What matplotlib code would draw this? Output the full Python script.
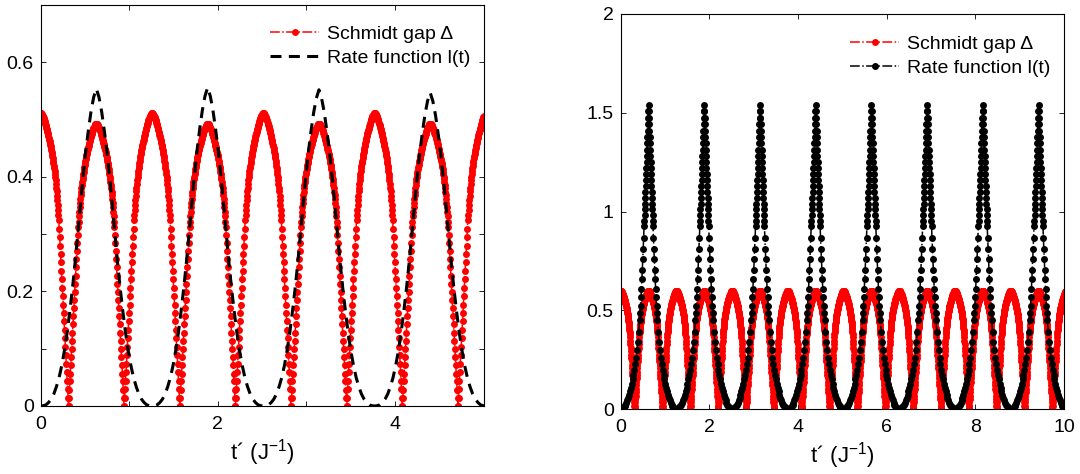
import numpy as np
import matplotlib
matplotlib.use('Agg')
import matplotlib.pyplot as plt

plt.rcParams['font.family'] = ['Liberation Sans', 'DejaVu Sans']
plt.rcParams['mathtext.fontset'] = 'custom'
plt.rcParams['mathtext.rm'] = 'Liberation Sans'

# Schmidt gap: one half lobe (offset from lobe maximum, fraction of the maximum)
gap_tau = [0.000, 0.004, 0.008, 0.012, 0.016, 0.020, 0.024, 0.028, 0.032, 0.036,
           0.040, 0.044, 0.048, 0.052, 0.056, 0.060, 0.064, 0.068, 0.072, 0.076,
           0.080, 0.084, 0.088, 0.092, 0.096, 0.100, 0.104, 0.108, 0.112, 0.116,
           0.120, 0.124, 0.128, 0.132, 0.136, 0.140, 0.144, 0.148, 0.152, 0.156,
           0.160, 0.164, 0.168, 0.172, 0.176, 0.180, 0.184, 0.188, 0.192, 0.196,
           0.200, 0.204, 0.209, 0.214, 0.219, 0.224, 0.229, 0.234, 0.239, 0.244,
           0.249, 0.254, 0.259, 0.264, 0.269, 0.274, 0.279, 0.284, 0.289, 0.294,
           0.299, 0.304, 0.309, 0.314]
gap_shape = [1.000, 1.000, 0.999, 0.997, 0.995, 0.992, 0.989, 0.986, 0.983, 0.980,
             0.976, 0.972, 0.968, 0.964, 0.960, 0.956, 0.951, 0.946, 0.942, 0.937,
             0.932, 0.927, 0.921, 0.916, 0.910, 0.905, 0.899, 0.893, 0.887, 0.881,
             0.874, 0.867, 0.860, 0.853, 0.846, 0.838, 0.830, 0.821, 0.812, 0.803,
             0.793, 0.782, 0.771, 0.759, 0.746, 0.733, 0.719, 0.704, 0.688, 0.671,
             0.653, 0.635, 0.606, 0.577, 0.548, 0.520, 0.491, 0.462, 0.433, 0.404,
             0.375, 0.346, 0.317, 0.289, 0.260, 0.231, 0.202, 0.173, 0.144, 0.115,
             0.087, 0.058, 0.029, 0.000]

# rate function, left panel: half lobe measured from the peak
rate_l_tau = [0.00, 0.03, 0.06, 0.09, 0.12, 0.15, 0.18, 0.21, 0.24, 0.27, 0.30,
              0.33, 0.36, 0.39, 0.42, 0.45, 0.48, 0.51, 0.54, 0.57, 0.60, 0.628]
rate_l_shape = [0.555, 0.540, 0.515, 0.482, 0.445, 0.400, 0.352, 0.300, 0.250, 0.205, 0.165,
                0.128, 0.097, 0.071, 0.050, 0.034, 0.021, 0.012, 0.006, 0.002, 0.0005, 0.0]

# rate function, right panel: half lobe measured from the peak
rate_r_tau = [0.000, 0.005, 0.010, 0.015, 0.020, 0.025, 0.030, 0.035, 0.040, 0.045, 0.050,
              0.055, 0.060, 0.065, 0.070, 0.075, 0.080, 0.085, 0.090, 0.095, 0.100,
              0.110, 0.120, 0.130, 0.140, 0.150, 0.160, 0.170, 0.180, 0.190, 0.200,
              0.220, 0.240, 0.260, 0.280, 0.300, 0.320, 0.340, 0.360, 0.380, 0.400,
              0.420, 0.440, 0.460, 0.480, 0.500, 0.520, 0.540, 0.560, 0.580, 0.600, 0.628]
rate_r_shape = [1.540, 1.507, 1.475, 1.442, 1.410, 1.378, 1.346, 1.314, 1.283, 1.252, 1.221,
                1.190, 1.160, 1.130, 1.100, 1.070, 1.041, 1.012, 0.983, 0.954, 0.926,
                0.868, 0.812, 0.758, 0.706, 0.657, 0.610, 0.566, 0.525, 0.487, 0.452,
                0.392, 0.342, 0.299, 0.262, 0.230, 0.201, 0.175, 0.151, 0.129, 0.109,
                0.092, 0.074, 0.059, 0.046, 0.034, 0.024, 0.016, 0.010, 0.005, 0.002, 0.000]

# lobe positions and heights
left_gap_centres = [0.0, 0.628, 1.257, 1.885, 2.513, 3.142, 3.770, 4.398, 5.027]
left_gap_peaks = [0.511, 0.493, 0.511, 0.493, 0.511, 0.493, 0.511, 0.493, 0.511]
left_rate_centres = [0.628, 1.885, 3.142, 4.398]
left_rate_peaks = [0.554, 0.556, 0.552, 0.547]

right_gap_centres = [0.0, 0.628, 1.257, 1.885, 2.513, 3.142, 3.770, 4.398, 5.027,
                     5.655, 6.283, 6.912, 7.540, 8.168, 8.796, 9.425, 10.053]
right_gap_peaks = [0.60, 0.60, 0.60, 0.60, 0.60, 0.60, 0.60, 0.60, 0.60,
                   0.60, 0.60, 0.60, 0.60, 0.60, 0.60, 0.60, 0.60]
right_rate_centres = [0.628, 1.885, 3.142, 4.398, 5.655, 6.912, 8.168, 9.425]
right_rate_peaks = [1.54, 1.54, 1.54, 1.54, 1.54, 1.54, 1.54, 1.54]

left_xticks = [0, 1, 2, 3, 4, 5]
left_xlabels = ['0', '', '2', '', '4', '']
left_yticks = [0, 0.1, 0.2, 0.3, 0.4, 0.5, 0.6]
left_ylabels = ['0', '', '0.2', '', '0.4', '', '0.6']
right_xticks = [0, 2, 4, 6, 8, 10]
right_xlabels = ['0', '2', '4', '6', '8', '10']
right_yticks = [0, 0.5, 1, 1.5, 2]
right_ylabels = ['0', '0.5', '1', '1.5', '2']


def lobes(centres, peaks, tau, shape):
    tau = np.asarray(tau)
    shape = np.asarray(shape)
    t, y = [], []
    for c, p in zip(centres, peaks):
        s = shape / shape[0] * p
        t.extend(c - tau[::-1])
        t.extend(c + tau[1:])
        y.extend(s[::-1])
        y.extend(s[1:])
    return np.array(t), np.array(y)


def style(ax, xt, xl, yt, yl):
    ax.set_xticks(xt)
    ax.set_xticklabels(xl)
    ax.set_yticks(yt)
    ax.set_yticklabels(yl)
    ax.tick_params(axis='x', pad=7)
    ax.tick_params(axis='y', pad=5)
    ax.tick_params(direction='in', top=True, right=True, length=3.5, width=0.6,
                   labelsize=14)
    for s in ax.spines.values():
        s.set_linewidth(0.8)
    ax.set_xlabel('t\u00b4 (J$\\mathregular{^{-1}}$)', fontsize=16, labelpad=3)


def add_legend(ax, x, y):
    ax.legend(loc='upper right', bbox_to_anchor=(x, y), frameon=False, fontsize=14,
              handlelength=2.5, handletextpad=0.4, labelspacing=0.3, borderaxespad=0,
              borderpad=0.4)


fig = plt.figure(figsize=(10.8, 4.74), dpi=100)
axL = fig.add_axes([0.03769, 0.14346, 0.41, 0.84599])
axR = fig.add_axes([0.57472, 0.13650, 0.41046, 0.83397])

# left panel
t, y = lobes(left_gap_centres, left_gap_peaks, gap_tau, gap_shape)
axL.plot(t, y, color='red', ls='-.', lw=1.1, marker='o', ms=5, mew=0,
         label='Schmidt gap \u0394')
t, y = lobes(left_rate_centres, left_rate_peaks, rate_l_tau, rate_l_shape)
axL.plot(t, y, color='black', ls='--', lw=2.2, dashes=(3.6, 2.4),
         label='Rate function l(t)')
axL.set_xlim(0, 5)
axL.set_ylim(0, 0.7)
style(axL, left_xticks, left_xlabels, left_yticks, left_ylabels)
add_legend(axL, 0.987, 0.968)

# right panel
t, y = lobes(right_gap_centres, right_gap_peaks, gap_tau, gap_shape)
axR.plot(t, y, color='red', ls='-.', lw=1.1, marker='o', ms=5, mew=0,
         label='Schmidt gap \u0394')
t, y = lobes(right_rate_centres, right_rate_peaks, rate_r_tau, rate_r_shape)
axR.plot(t, y, color='black', ls='-.', lw=1.1, marker='o', ms=5, mew=0,
         label='Rate function l(t)')
axR.set_xlim(0, 10)
axR.set_ylim(0, 2)
style(axR, right_xticks, right_xlabels, right_yticks, right_ylabels)
add_legend(axR, 0.986, 0.965)

fig.savefig('out.png', dpi=100)
